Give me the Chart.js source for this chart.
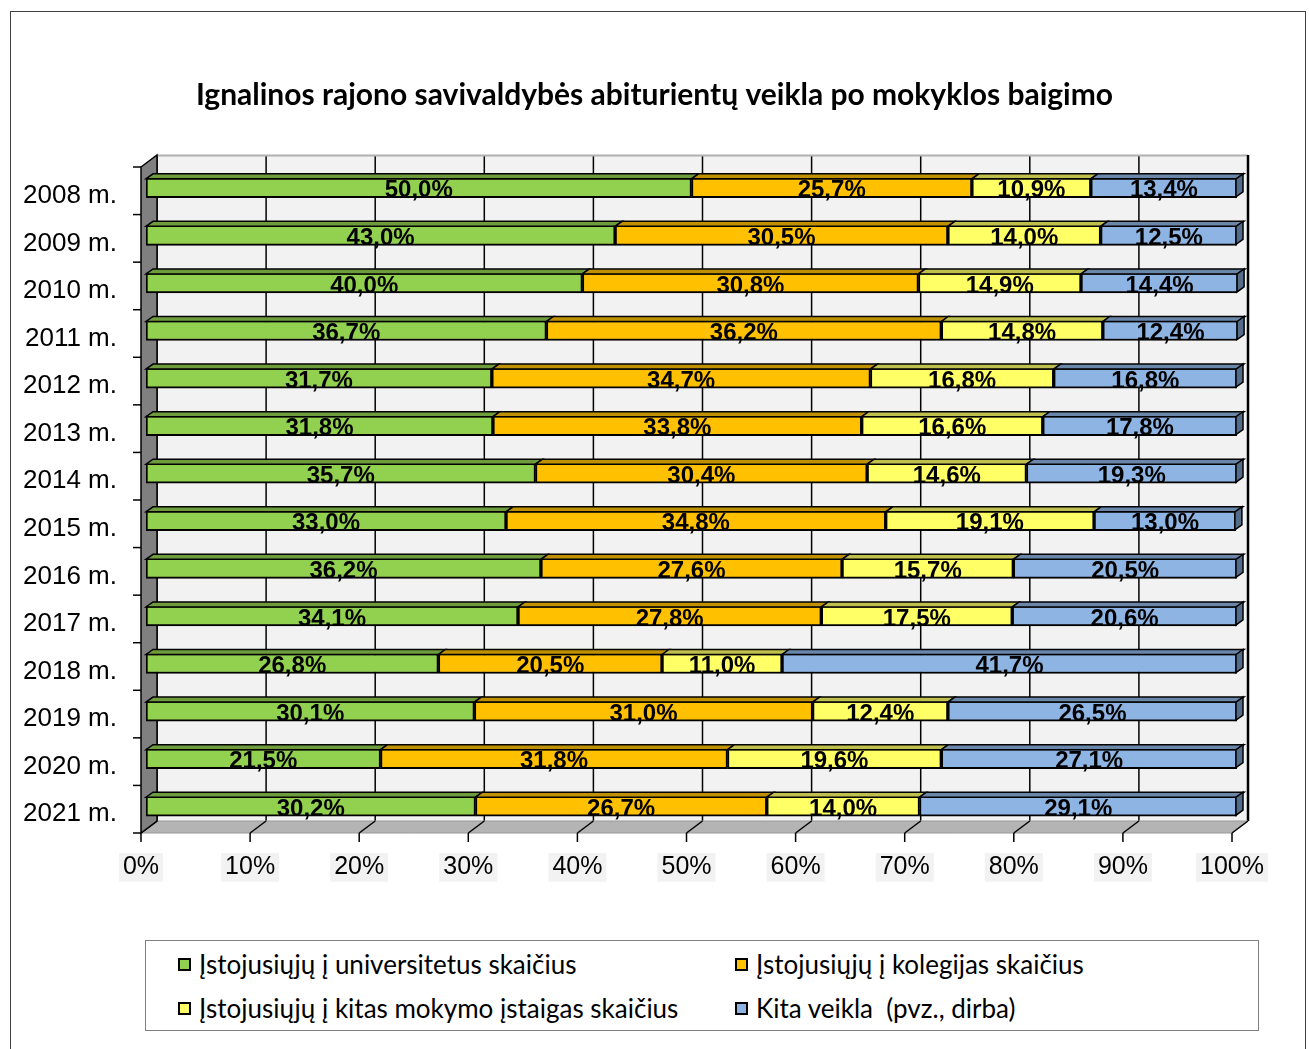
<!DOCTYPE html>
<html><head><meta charset="utf-8">
<script src="https://cdn.jsdelivr.net/npm/chart.js@4/dist/chart.umd.min.js"></script>
<style>
html,body{margin:0;padding:0;background:#fff;overflow:hidden;}
#wrap{position:relative;width:1309px;height:1049px;overflow:hidden;}
#frame{position:absolute;left:10px;top:11px;width:1296px;height:1100px;border:1px solid #404040;box-sizing:border-box;}
canvas{position:absolute;left:0;top:0;}
#legend{position:absolute;left:145px;top:940px;width:1114px;height:91px;border:1px solid #7f7f7f;box-sizing:border-box;background:#fff;font-family:Lato,sans-serif;font-size:26px;color:#000;}
.item{position:absolute;white-space:pre;height:30px;line-height:30px;}
.mk{position:absolute;width:13px;height:13px;border:2px solid #000;box-sizing:border-box;}
</style></head>
<body>
<div id="wrap">
<div id="frame"></div>
<canvas id="c" width="1309" height="1049"></canvas>
<div id="legend"></div>
</div>
<script>
const titleText = 'Ignalinos rajono savivaldybės abiturientų veikla po mokyklos baigimo';
const categories = ['2008 m.','2009 m.','2010 m.','2011 m.','2012 m.','2013 m.','2014 m.','2015 m.','2016 m.','2017 m.','2018 m.','2019 m.','2020 m.','2021 m.'];
const seriesNames = ['Įstojusiųjų į universitetus skaičius','Įstojusiųjų į kolegijas skaičius','Įstojusiųjų į kitas mokymo įstaigas skaičius','Kita veikla  (pvz., dirba)'];
const universitetai = [50.0,43.0,40.0,36.7,31.7,31.8,35.7,33.0,36.2,34.1,26.8,30.1,21.5,30.2];
const kolegijos = [25.7,30.5,30.8,36.2,34.7,33.8,30.4,34.8,27.6,27.8,20.5,31.0,31.8,26.7];
const kitosIstaigos = [10.9,14.0,14.9,14.8,16.8,16.6,14.6,19.1,15.7,17.5,11.0,12.4,19.6,14.0];
const kitaVeikla = [13.4,12.5,14.4,12.4,16.8,17.8,19.3,13.0,20.5,20.6,41.7,26.5,27.1,29.1];
const xTickValues = [0,10,20,30,40,50,60,70,80,90,100];
const seriesColors = ['#92d050','#ffc000','#ffff66','#8db4e2'];
const seriesData = [universitetai, kolegijos, kitosIstaigos, kitaVeikla];

// 3D geometry offsets (relative to the bar plane)
const FRONT = {dx:-5, dy:3};
const BACK = {dx:11, dy:-9};
const BAR = {dx:7, dy:-5};

function shade(hex, f){
  const n = parseInt(hex.slice(1),16);
  const r = Math.round(((n>>16)&255)*f), g = Math.round(((n>>8)&255)*f), b = Math.round((n&255)*f);
  return 'rgb('+r+','+g+','+b+')';
}
function poly(ctx, pts, fill, stroke, lw){
  ctx.beginPath();
  ctx.moveTo(pts[0][0], pts[0][1]);
  for (let i=1;i<pts.length;i++) ctx.lineTo(pts[i][0], pts[i][1]);
  ctx.closePath();
  if (fill){ctx.fillStyle = fill; ctx.fill();}
  if (stroke){ctx.strokeStyle = stroke; ctx.lineWidth = lw||1; ctx.stroke();}
}
function line(ctx, x1,y1,x2,y2, color, lw){
  ctx.beginPath(); ctx.moveTo(x1,y1); ctx.lineTo(x2,y2);
  ctx.strokeStyle = color; ctx.lineWidth = lw; ctx.stroke();
}

const threeD = {
  id:'threeD',
  beforeDatasetsDraw(chart){
    const ctx = chart.ctx, a = chart.chartArea, xs = chart.scales.x;
    const x0 = xs.getPixelForValue(xs.min), x1 = xs.getPixelForValue(xs.max);
    const t = a.top, b = a.bottom;
    ctx.save();
    ctx.fillStyle = '#f2f2f2';
    ctx.fillRect(x0+BACK.dx, t+BACK.dy, x1-x0, b-t);
    xs.ticks.forEach(tk => {
      const px = xs.getPixelForValue(tk.value) + BACK.dx;
      line(ctx, px, t+BACK.dy, px, b+BACK.dy, '#000', 1.5);
    });
    line(ctx, x0+BACK.dx, t+BACK.dy+0.5, x1+BACK.dx, t+BACK.dy+0.5, '#b0b0b0', 2);
    line(ctx, x1+BACK.dx, t+BACK.dy, x1+BACK.dx, b+BACK.dy, '#000', 2.5);
    poly(ctx, [[x0+FRONT.dx,b+FRONT.dy],[x1+FRONT.dx,b+FRONT.dy],[x1+BACK.dx,b+BACK.dy],[x0+BACK.dx,b+BACK.dy]], '#b4b4b4', '#9a9a9a', 1);
    xs.ticks.forEach(tk => {
      const px = xs.getPixelForValue(tk.value);
      line(ctx, px+BACK.dx, b+BACK.dy, px+FRONT.dx, b+FRONT.dy, '#000', 1.5);
      line(ctx, px+FRONT.dx, b+FRONT.dy, px+FRONT.dx, b+FRONT.dy+9, '#000', 1.5);
    });
    poly(ctx, [[x0+FRONT.dx,t+FRONT.dy],[x0+BACK.dx,t+BACK.dy],[x0+BACK.dx,b+BACK.dy],[x0+FRONT.dx,b+FRONT.dy]], '#808080', '#000', 1.5);
    const n = chart.data.labels.length;
    for (let i=0;i<=n;i++){
      const yy = t + (b-t)*i/n + FRONT.dy;
      line(ctx, x0+FRONT.dx-8, yy, x0+FRONT.dx, yy, '#000', 1.5);
    }
    ctx.restore();
  },
  afterDatasetsDraw(chart){
    const ctx = chart.ctx;
    const nd = chart.data.datasets.length;
    ctx.save();
    ctx.lineJoin = 'miter';
    const bars = [];
    for (let d=0; d<nd; d++){
      const meta = chart.getDatasetMeta(d);
      meta.data.forEach((el, i) => {
        const p = el.getProps(['x','y','base','height'], true);
        const left = Math.min(p.x, p.base), right = Math.max(p.x, p.base);
        const top = p.y - p.height/2, bottom = p.y + p.height/2;
        bars.push({d, i, left, right, top, bottom, cy:p.y, v:chart.data.datasets[d].data[i]});
      });
    }
    bars.forEach(r => {
      const c = seriesColors[r.d];
      poly(ctx, [[r.left,r.top+1],[r.right,r.top+1],[r.right+BAR.dx,r.top+1+BAR.dy],[r.left+BAR.dx,r.top+1+BAR.dy]], shade(c,0.75), '#000', 1.5);
      if (r.d === nd-1){
        poly(ctx, [[r.right-1,r.top+1],[r.right-1+BAR.dx,r.top+1+BAR.dy],[r.right-1+BAR.dx,r.bottom-1+BAR.dy],[r.right-1,r.bottom-1]], shade(c,0.6), '#000', 1.5);
      }
    });
    ctx.fillStyle = '#000';
    ctx.font = 'bold 24px "Liberation Sans", Arial, sans-serif';
    ctx.textAlign = 'center';
    ctx.textBaseline = 'middle';
    bars.forEach(r => {
      const txt = r.v.toFixed(1).replace('.', ',') + '%';
      ctx.fillText(txt, (r.left + r.right)/2, r.cy + 3);
    });
    ctx.restore();
  }
};

new Chart(document.getElementById('c'), {
  type:'bar',
  data:{
    labels: categories,
    datasets: seriesNames.map((n,i)=>({
      label:n, data:seriesData[i], backgroundColor:seriesColors[i],
      borderColor:'#000', borderWidth:2, borderSkipped:false, barThickness:20
    }))
  },
  options:{
    indexAxis:'y', responsive:false, animation:false, devicePixelRatio:1,
    layout:{padding:0},
    plugins:{
      legend:{display:false}, tooltip:{enabled:false},
      title:{display:true, text:titleText, color:'#000',
        font:{family:'Lato', size:30, weight:'bold', lineHeight:1.2},
        padding:{top:77, bottom:51}}
    },
    scales:{
      x:{type:'linear', stacked:true, min:0, max:100, position:'bottom',
        grid:{display:false, drawTicks:false}, border:{display:false},
        afterBuildTicks: s => { s.ticks = xTickValues.map(v => ({value:v})); },
        ticks:{callback:v=>v+'%', color:'#000',
          font:{family:'Liberation Sans', size:25, lineHeight:1.15},
          padding:23, labelOffset:-5, maxRotation:0, minRotation:0, autoSkip:false,
          showLabelBackdrop:true, backdropColor:'#f2f2f2', backdropPadding:{x:4, y:0}},
        afterFit: s => { s.height = 219; }
      },
      y:{type:'category', stacked:true, position:'left',
        grid:{display:false, drawTicks:false}, border:{display:false},
        ticks:{color:'#000', font:{family:'Liberation Sans', size:26}, padding:29, labelOffset:8},
        afterFit: s => { s.width = 146; }
      },
      y2:{type:'category', position:'right',
        grid:{display:false, drawTicks:false}, border:{display:false},
        ticks:{display:false},
        afterFit: s => { s.width = 72; }
      }
    }
  },
  plugins:[threeD]
});

const lg = document.getElementById('legend');
const colLeft = [32, 589], rowTop = [24, 68];
seriesNames.forEach((name, i) => {
  const col = i % 2, row = Math.floor(i / 2);
  const mk = document.createElement('div');
  mk.className = 'mk';
  mk.style.left = colLeft[col] + 'px';
  mk.style.top = (rowTop[row] - 7) + 'px';
  mk.style.background = seriesColors[i];
  lg.appendChild(mk);
  const tx = document.createElement('div');
  tx.className = 'item';
  tx.textContent = name;
  tx.style.left = (colLeft[col] + 21) + 'px';
  tx.style.top = (rowTop[row] - 16) + 'px';
  lg.appendChild(tx);
});
</script>
</body></html>
